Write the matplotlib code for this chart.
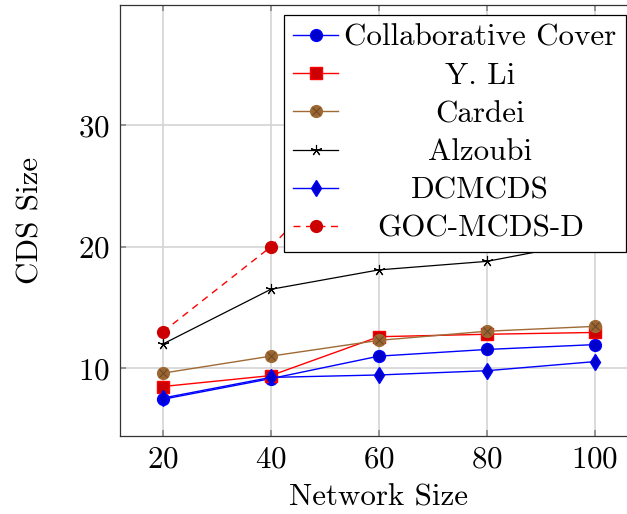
import matplotlib
matplotlib.use("Agg")
import matplotlib.pyplot as plt

plt.rcParams['font.family'] = ['cmr10', 'DejaVu Serif']
plt.rcParams['axes.formatter.use_mathtext'] = True
plt.rcParams['mathtext.fontset'] = 'cm'

# Data
network_size = [20, 40, 60, 80, 100]
collab_cover = [7.45, 9.15, 11.0, 11.55, 11.95]
y_li = [8.5, 9.4, 12.6, 12.8, 12.95]
cardei = [9.6, 11.0, 12.3, 13.05, 13.45]
alzoubi = [12.0, 16.5, 18.1, 18.8, 20.5]
dcmcds = [7.55, 9.25, 9.45, 9.8, 10.55]
goc_mcds_d = [13.0, 20.0, 29.0, 33.0, 37.0]

x_ticks = [20, 40, 60, 80, 100]
y_ticks = [10, 20, 30]

FS = 22.3

fig = plt.figure(figsize=(6.27, 5.14), dpi=100)
ax = fig.add_axes([0.1909, 0.1523, 0.8266, 0.8386])

h1, = ax.plot(network_size, collab_cover, color='#0000ff', lw=1.0, marker='o',
              ms=8.5, mfc='#0000cc', mec='#0000ff', zorder=3)
h2, = ax.plot(network_size, y_li, color='#ff0000', lw=1.0, marker='s',
              ms=8.0, mfc='#cc0000', mec='#ff0000', zorder=3)
h3, = ax.plot(network_size, cardei, color='#a06a35', lw=1.0, marker='o',
              ms=8.5, mfc='#996633', mec='#a06a35', zorder=3)
h3x, = ax.plot(network_size, cardei, ls='none', marker='x', ms=5.5,
               mec='#6b4520', mew=0.7, zorder=4)
h4, = ax.plot(network_size, alzoubi, color='black', lw=0.9, marker=(5, 2, 0),
              ms=8, mew=0.8, zorder=3)
h5, = ax.plot(network_size, dcmcds, color='#0000ff', lw=1.0, marker='d',
              ms=8.5, mfc='#0000cc', mec='#0000ff', zorder=3)
h6, = ax.plot(network_size, goc_mcds_d, color='#ff0000', lw=1.0, ls=(0, (5, 4)),
              marker='o', ms=8.5, mfc='#cc0000', mec='#cc0000', zorder=3)

ax.set_xlim(12, 108)
ax.set_ylim(4.45, 39.93)
ax.set_xticks(x_ticks)
ax.set_yticks(y_ticks)
ax.grid(True, color='#d4d4d4', lw=1.2, zorder=0)
ax.set_axisbelow(True)
ax.tick_params(direction='in', length=4.5, width=1.2, color='#888888',
               top=True, right=True, labelsize=FS, pad=7)
for s in ax.spines.values():
    s.set_color('#333333')
    s.set_linewidth(0.9)

ax.set_xlabel('Network Size', fontsize=FS, labelpad=7)
ax.set_ylabel('CDS Size', fontsize=FS, labelpad=24)

labels = ['Collaborative Cover', 'Y. Li', 'Cardei', 'Alzoubi', 'DCMCDS', 'GOC-MCDS-D']
leg = ax.legend([h1, h2, (h3, h3x), h4, h5, h6], labels,
                loc='upper right', bbox_to_anchor=(625.7 / 627, 1 - 14.7 / 514),
                bbox_transform=fig.transFigure, borderaxespad=0,
                fontsize=FS, fancybox=False, framealpha=1, edgecolor='black',
                handlelength=1.45, handletextpad=0.2, labelspacing=0.33,
                borderpad=0.3)
leg.get_frame().set_linewidth(0.9)

# centre the labels inside the legend like pgfplots does
fig.canvas.draw()
renderer = fig.canvas.get_renderer()
texts = leg.get_texts()
widths = [t.get_window_extent(renderer).width for t in texts]
wmax = max(widths)
for t, w in zip(texts, widths):
    t.set_x((wmax - w) / 2)

fig.savefig('out.png', dpi=100)
